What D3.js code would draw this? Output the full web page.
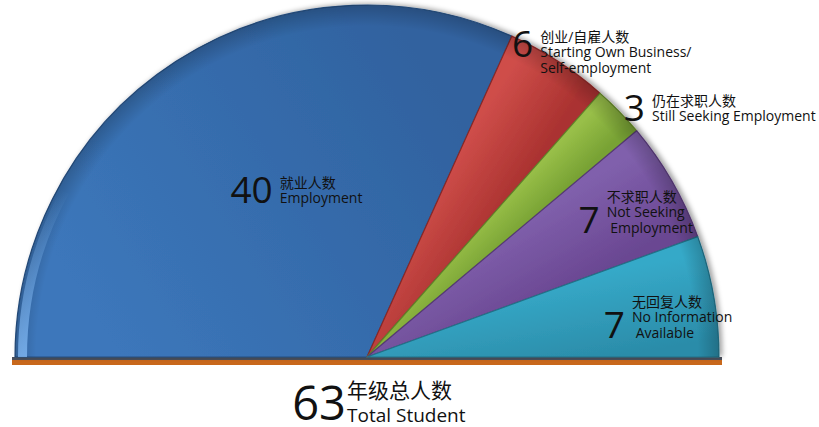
<!DOCTYPE html>
<html>
<head>
<meta charset="utf-8">
<script src="https://cdn.jsdelivr.net/npm/d3@7"></script>
<style>
  body { margin: 0; background: #fff; }
  text { font-family: "Open Sans", "Noto Sans CJK SC", sans-serif; fill: #111; }
</style>
</head>
<body>
<div id="chart"></div>
<script>
// data
var categories = ["Employment", "Starting Own Business/Self-employment", "Still Seeking Employment", "Not Seeking Employment", "No Information Available"];
var values = [40, 6, 3, 7, 7];
var cnLabels = ["就业人数", "创业/自雇人数", "仍在求职人数", "不求职人数", "无回复人数"];
var enLabels = [["Employment"], ["Starting Own Business/", "Self-employment"], ["Still Seeking Employment"], ["Not Seeking", " Employment"], ["No Information", " Available"]];
var totalLabel = ["年级总人数", "Total Student"];

var colors = [
    ["#3c77bb", "#30629f"],
    ["#cf4e4a", "#aa3230"],
    ["#98bf48", "#78a234"],
    ["#8060ac", "#6a4792"],
    ["#36a9c8", "#2b8ca9"]
];
// label nudges from the label arc centroid, and which english line the number sits on
var nudges = [[53, 68], [27, -62], [93, -52], [8, 8], [2, 27]];
var numLine = [0, 0, 0, 1, 1];

var width = 819, height = 427;
var cx = 367, cy = 357, radius = 352;

var svg = d3.select("#chart").append("svg")
    .attr("width", width).attr("height", height);

var defs = svg.append("defs");
var shadow = defs.append("filter").attr("id", "shadow")
    .attr("x", "-10%").attr("y", "-10%").attr("width", "120%").attr("height", "120%");
shadow.append("feDropShadow").attr("dx", 3).attr("dy", -1)
    .attr("stdDeviation", 2.5).attr("flood-color", "#000").attr("flood-opacity", 0.35);

var pie = d3.pie().sort(null).value(function(d){ return d; })
    .startAngle(-Math.PI / 2).endAngle(Math.PI / 2);
var arcs = pie(values);

var arc = d3.arc().innerRadius(0).outerRadius(radius);
var labelArc = d3.arc().innerRadius(radius * 0.75).outerRadius(radius * 0.75);

// gradients going across each slice
arcs.forEach(function(d, i){
    var a0 = d.startAngle, a1 = d.endAngle, r = radius * 0.7;
    var g = defs.append("linearGradient").attr("id", "grad" + i)
        .attr("gradientUnits", "userSpaceOnUse")
        .attr("x1", r * Math.sin(a0)).attr("y1", -r * Math.cos(a0))
        .attr("x2", r * Math.sin(a1)).attr("y2", -r * Math.cos(a1));
    g.append("stop").attr("offset", "0%").attr("stop-color", colors[i][0]);
    g.append("stop").attr("offset", "100%").attr("stop-color", colors[i][1]);
});
// rim shading
var rim = defs.append("radialGradient").attr("id", "rim")
    .attr("gradientUnits", "userSpaceOnUse").attr("cx", 0).attr("cy", 0).attr("r", radius);
rim.append("stop").attr("offset", "0%").attr("stop-color", "#000").attr("stop-opacity", 0);
rim.append("stop").attr("offset", "94%").attr("stop-color", "#000").attr("stop-opacity", 0);
rim.append("stop").attr("offset", "100%").attr("stop-color", "#000").attr("stop-opacity", 0.2);

var g = svg.append("g").attr("transform", "translate(" + cx + "," + cy + ")");

// base strip
g.append("rect").attr("x", -radius - 3).attr("y", 0).attr("width", radius * 2 + 6).attr("height", 3)
    .attr("fill", "#4a4f5c");
g.append("rect").attr("x", -radius - 3).attr("y", 3).attr("width", radius * 2 + 6).attr("height", 5)
    .attr("fill", "#c8681c");

var slices = g.append("g").attr("filter", "url(#shadow)");
slices.selectAll("path.slice").data(arcs).enter().append("path")
    .attr("class", "slice")
    .attr("d", arc)
    .attr("fill", function(d, i){ return "url(#grad" + i + ")"; })
    .attr("stroke", function(d, i){ return d3.color(colors[i][1]).darker(0.6); })
    .attr("stroke-width", 1.2)
    .attr("stroke-linejoin", "round");
g.selectAll("path.rim").data(arcs).enter().append("path")
    .attr("class", "rim")
    .attr("d", arc)
    .attr("fill", "url(#rim)");

// light highlight along the left rim
var hl = d3.arc().innerRadius(radius - 12).outerRadius(radius - 3)
    .startAngle(-Math.PI / 2).endAngle(-Math.PI / 2 + 0.5);
defs.append("linearGradient").attr("id", "hlGrad")
    .attr("x1", "0%").attr("y1", "100%").attr("x2", "0%").attr("y2", "0%")
    .call(function(s){
        s.append("stop").attr("offset", "0%").attr("stop-color", "#8cc4ff").attr("stop-opacity", 0.7);
        s.append("stop").attr("offset", "100%").attr("stop-color", "#8cc4ff").attr("stop-opacity", 0);
    });
g.append("path").attr("d", hl()).attr("fill", "url(#hlGrad)");

// labels
var lineH = 16;
var labels = g.selectAll("g.label").data(arcs).enter().append("g")
    .attr("class", "label")
    .attr("transform", function(d, i){
        var c = labelArc.centroid(d);
        return "translate(" + (c[0] + nudges[i][0]) + "," + (c[1] + nudges[i][1]) + ")";
    });
labels.each(function(d, i){
    var sel = d3.select(this);
    var lines = enLabels[i];
    var n = lines.length;
    sel.append("text")
        .attr("text-anchor", "end")
        .attr("x", -4)
        .attr("y", -lineH * (n - 1 - numLine[i]))
        .attr("font-size", "37px")
        .text(d.data);
    sel.append("text").attr("x", 3).attr("y", -lineH * (n - 1) - 15)
        .attr("font-size", "14px")
        .attr("font-family", "'Noto Sans CJK SC', sans-serif")
        .text(cnLabels[i]);
    lines.forEach(function(line, j){
        sel.append("text").attr("x", 3).attr("y", -lineH * (n - 1 - j))
            .attr("font-size", "14px")
            .style("white-space", "pre")
            .text(line);
    });
});

// total
var total = d3.sum(values);
var tg = svg.append("g").attr("transform", "translate(" + 346 + "," + 420 + ")");
tg.append("text").attr("text-anchor", "end").attr("font-size", "47px").text(total);
tg.append("text").attr("x", 1).attr("y", -22).attr("font-size", "21px")
    .attr("font-family", "'Noto Sans CJK SC', sans-serif").text(totalLabel[0]);
tg.append("text").attr("x", 1).attr("y", 2).attr("font-size", "19px").text(totalLabel[1]);
</script>
</body>
</html>
